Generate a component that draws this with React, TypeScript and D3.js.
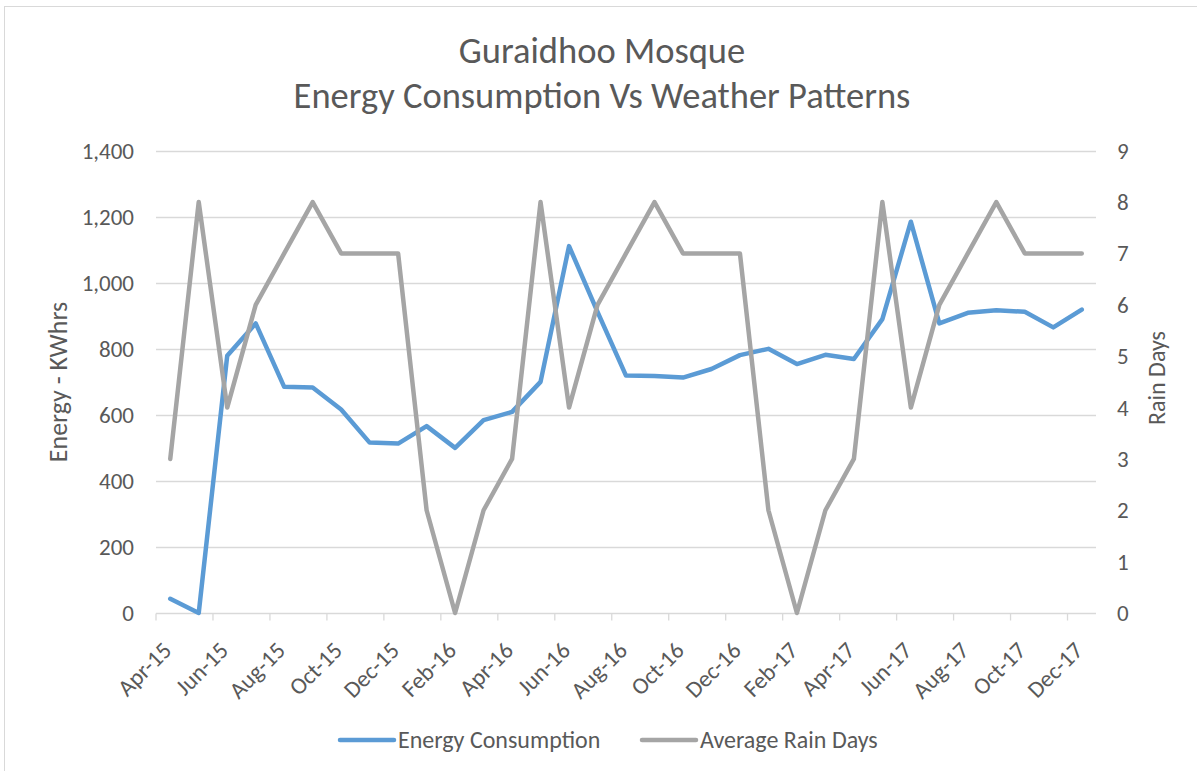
import * as d3 from "d3";
import React, { useRef, useEffect } from "react";

const months = [
  "Apr-15", "May-15", "Jun-15", "Jul-15", "Aug-15", "Sep-15", "Oct-15", "Nov-15", "Dec-15",
  "Jan-16", "Feb-16", "Mar-16", "Apr-16", "May-16", "Jun-16", "Jul-16", "Aug-16", "Sep-16",
  "Oct-16", "Nov-16", "Dec-16", "Jan-17", "Feb-17", "Mar-17", "Apr-17", "May-17", "Jun-17",
  "Jul-17", "Aug-17", "Sep-17", "Oct-17", "Nov-17", "Dec-17",
];
const energy = [
  43, 0, 779, 877, 685, 683, 616, 516, 513,
  566, 500, 584, 609, 700, 1111, 912, 719, 718, 713, 739, 781,
  800, 754, 782, 769, 890, 1185, 877, 909, 917, 912, 865, 919,
];
const rainDays = [
  3, 8, 4, 6, 7, 8, 7, 7, 7,
  2, 0, 2, 3, 8, 4, 6, 7, 8, 7, 7, 7,
  2, 0, 2, 3, 8, 4, 6, 7, 8, 7, 7, 7,
];
const energyTicks = [0, 200, 400, 600, 800, 1000, 1200, 1400];
const rainTicks = [0, 1, 2, 3, 4, 5, 6, 7, 8, 9];
const titleLines = ["Guraidhoo Mosque", "Energy Consumption Vs Weather Patterns"];

const W = 1197;
const H = 771;
const FONT = "Carlito, Calibri, Lato, sans-serif";
const TEXT = "#595959";
const GRID = "#d9d9d9";
const BLUE = "#5b9bd5";
const GREY = "#a5a5a5";

const draw = (node) => {
  const plot = { left: 156, right: 1096, top: 150.7, bottom: 613 };

  const svg = d3.select(node);
  svg.selectAll("*").remove();

  svg.append("rect")
    .attr("width", W).attr("height", H).attr("fill", "#fff");
  svg.append("rect")
    .attr("x", 4.5).attr("y", 6.5)
    .attr("width", W + 20).attr("height", H + 20)
    .attr("fill", "none").attr("stroke", GRID).attr("stroke-width", 1);

  const x = d3.scaleBand().domain(months).range([plot.left, plot.right]);
  const cx = (m) => x(m) + x.bandwidth() / 2;
  const y = d3.scaleLinear().domain([0, 1400]).range([plot.bottom, plot.top]);
  const y2 = d3.scaleLinear().domain([0, 9]).range([plot.bottom, plot.top]);

  // grid
  svg.append("g")
    .selectAll("line")
    .data(energyTicks.slice(1))
    .join("line")
    .attr("x1", plot.left).attr("x2", plot.right)
    .attr("y1", (d) => Math.round(y(d)) + 0.5).attr("y2", (d) => Math.round(y(d)) + 0.5)
    .attr("stroke", GRID).attr("stroke-width", 1.3);

  // x axis line + ticks
  const yb = Math.round(plot.bottom) + 0.5;
  svg.append("line")
    .attr("x1", plot.left).attr("x2", plot.right)
    .attr("y1", yb).attr("y2", yb)
    .attr("stroke", GRID).attr("stroke-width", 1.3);

  const labelled = months.filter((m, i) => i % 2 === 0);
  svg.append("g")
    .selectAll("line")
    .data(labelled)
    .join("line")
    .attr("x1", (d) => x(d)).attr("x2", (d) => x(d))
    .attr("y1", yb).attr("y2", yb + 7)
    .attr("stroke", GRID).attr("stroke-width", 1.3);

  svg.append("g")
    .selectAll("text")
    .data(labelled)
    .join("text")
    .attr("transform", (d) => "translate(" + (x(d) + 11) + "," + (plot.bottom + 33) + ") rotate(-45)")
    .attr("text-anchor", "end")
    .attr("dy", "0.35em")
    .style("font-family", FONT).style("font-size", "23.5px").style("fill", TEXT)
    .text((d) => d);

  // left ticks
  svg.append("g")
    .selectAll("text")
    .data(energyTicks)
    .join("text")
    .attr("x", 134).attr("y", (d) => y(d))
    .attr("dy", "0.35em")
    .attr("text-anchor", "end")
    .style("font-family", FONT).style("font-size", "23px").style("fill", TEXT)
    .text((d) => d3.format(",")(d));

  // right ticks
  svg.append("g")
    .selectAll("text")
    .data(rainTicks)
    .join("text")
    .attr("x", 1117).attr("y", (d) => y2(d))
    .attr("dy", "0.35em")
    .style("font-family", FONT).style("font-size", "23px").style("fill", TEXT)
    .text((d) => d);

  // axis titles
  svg.append("text")
    .attr("transform", "translate(67,382) rotate(-90)")
    .attr("text-anchor", "middle")
    .style("font-family", FONT).style("font-size", "26px").style("fill", TEXT)
    .text("Energy - KWhrs");
  svg.append("text")
    .attr("transform", "translate(1165,378) rotate(-90)")
    .attr("text-anchor", "middle")
    .style("font-family", FONT).style("font-size", "24px").style("fill", TEXT)
    .text("Rain Days");

  // title
  svg.append("g")
    .selectAll("text")
    .data(titleLines)
    .join("text")
    .attr("x", 602).attr("y", (d, i) => 63 + i * 45)
    .attr("text-anchor", "middle")
    .style("font-family", FONT).style("font-size", "36.5px").style("fill", TEXT)
    .text((d) => d);

  // series
  const energyLine = d3.line()
    .x((d, i) => cx(months[i]))
    .y((d) => y(d));
  const rainLine = d3.line()
    .x((d, i) => cx(months[i]))
    .y((d) => y2(d));

  svg.append("path")
    .datum(energy)
    .attr("d", energyLine)
    .attr("fill", "none").attr("stroke", BLUE).attr("stroke-width", 4.5)
    .attr("stroke-linejoin", "round").attr("stroke-linecap", "round");
  svg.append("path")
    .datum(rainDays)
    .attr("d", rainLine)
    .attr("fill", "none").attr("stroke", GREY).attr("stroke-width", 4.5)
    .attr("stroke-linejoin", "round").attr("stroke-linecap", "round");

  // legend
  const legend = [
    { name: "Energy Consumption", color: BLUE, x: 340 },
    { name: "Average Rain Days", color: GREY, x: 642 },
  ];
  const lg = svg.append("g").selectAll("g").data(legend).join("g")
    .attr("transform", (d) => "translate(" + d.x + ",740)");
  lg.append("line")
    .attr("x1", 0).attr("x2", 54)
    .attr("stroke", (d) => d.color).attr("stroke-width", 4.5).attr("stroke-linecap", "round");
  lg.append("text")
    .attr("x", 58).attr("dy", "0.35em")
    .style("font-family", FONT).style("font-size", "24px").style("fill", TEXT)
    .text((d) => d.name);
};

export default function App() {
  const ref = useRef(null);

  useEffect(() => {
    draw(ref.current);
  }, []);

  return (
    <svg
      ref={ref}
      width={W}
      height={H}
      style={{ position: "absolute", left: 0, top: 0, display: "block" }}
    />
  );
}
